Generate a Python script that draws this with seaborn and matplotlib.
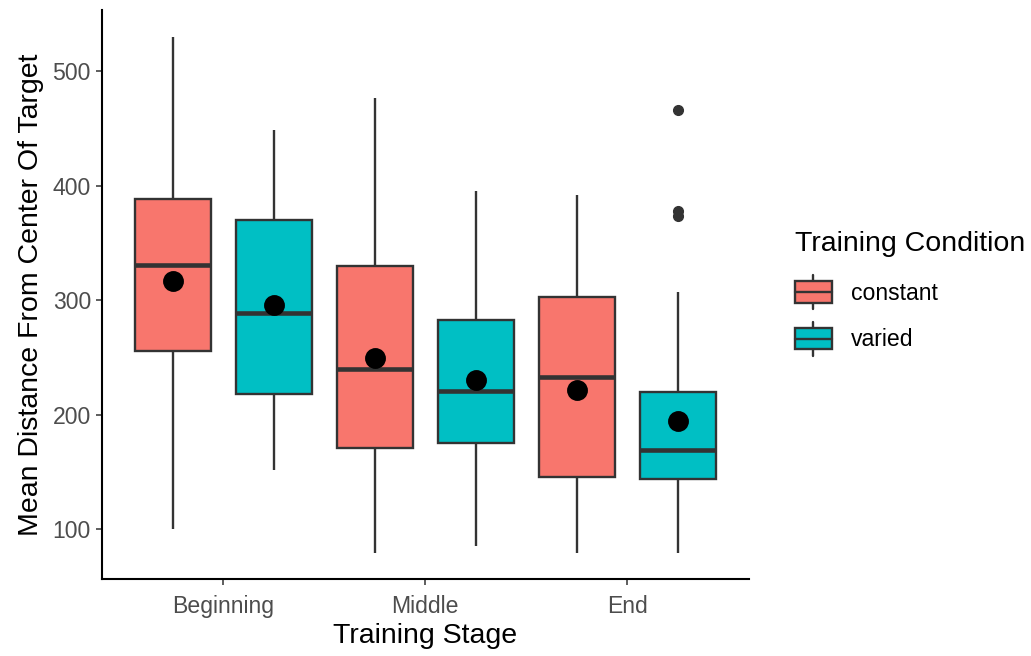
import matplotlib
matplotlib.use("Agg")
import matplotlib.pyplot as plt
import matplotlib.patches as mpatches
import matplotlib.lines as mlines
from matplotlib.legend_handler import HandlerBase
import numpy as np
import pandas as pd
import seaborn as sns

# ---------------------------------------------------------------------------
# Values (one entry per stage x condition box)
# ---------------------------------------------------------------------------
stages = ["Beginning", "Middle", "End"]
conditions = ["constant", "varied"]
palette = {"constant": "#F8766D", "varied": "#00BFC4"}

box_stage = ["Beginning", "Beginning", "Middle", "Middle", "End", "End"]
box_cond = ["constant", "varied", "constant", "varied", "constant", "varied"]
whisk_lo = [100, 152, 79, 85, 79, 79]
q1 = [256, 218, 171, 175, 146, 144]
median = [331, 289, 240, 221, 233, 169]
q3 = [388, 370, 330, 283, 303, 220]
whisk_hi = [530, 449, 477, 395, 392, 307]
outliers = [[], [], [], [], [], [466, 378, 374]]
means = [317, 296, 250, 230, 222, 195]


# Expand each five-number summary into a sample whose linear quartiles
# reproduce it exactly (n = 4m + 1, so Q1/median/Q3 land on indices m/2m/3m).
rows = []
for st, cd, lo, a, md, b, hi, out in zip(box_stage, box_cond, whisk_lo, q1,
                                         median, q3, whisk_hi, outliers):
    m = 1 + len(out)
    vals = [lo] + [a] * m + [md] * m + [b] * m + [hi] * (m - len(out)) + out
    rows += [{"stage": st, "condition": cd, "distance": v} for v in vals]
df = pd.DataFrame(rows)
df_mean = pd.DataFrame({"stage": box_stage, "condition": box_cond, "distance": means})

# ---------------------------------------------------------------------------
# Plot
# ---------------------------------------------------------------------------
sns.set_theme(style="white")
plt.rcParams["font.family"] = ["Liberation Sans", "DejaVu Sans"]

fig = plt.figure(figsize=(10.31, 6.56), dpi=100)
ax = fig.add_axes([0.099, 0.117, 0.627, 0.868])

edge = "#333333"
sns.boxplot(data=df, x="stage", y="distance", hue="condition",
            order=stages, hue_order=conditions, palette=palette,
            saturation=1, width=1.0, gap=0.25, whis=1.5, showcaps=False,
            linecolor=edge, linewidth=1.7,
            medianprops={"linewidth": 3.3, "color": edge},
            flierprops={"marker": "o", "markerfacecolor": edge,
                        "markeredgecolor": edge, "markersize": 7},
            legend=False, ax=ax)

sns.pointplot(data=df_mean, x="stage", y="distance", hue="condition",
              order=stages, hue_order=conditions,
              palette={"constant": "black", "varied": "black"},
              dodge=0.5, errorbar=None, markers="o", linestyle="none",
              markersize=13, legend=False, ax=ax)
for coll in ax.lines[-4:]:
    coll.set_zorder(5)

ax.set_xlim(-0.6, 2.6)
ax.set_ylim(56.4, 553.6)
ax.set_yticks([100, 200, 300, 400, 500])

for side in ["top", "right"]:
    ax.spines[side].set_visible(False)
for side in ["left", "bottom"]:
    ax.spines[side].set_color("black")
    ax.spines[side].set_linewidth(1.5)

ax.tick_params(axis="both", which="both", length=4, width=1.1,
               color="#333333", labelcolor="#4D4D4D", labelsize=16.6,
               left=True, bottom=True, pad=4)
ax.tick_params(axis="x", pad=7)
ax.set_xlabel("Training Stage", fontsize=20.5, color="black", labelpad=4)
ax.set_ylabel("Mean Distance From Center Of Target", fontsize=20.5,
              color="black", labelpad=6)


# ggplot-like legend keys: a small box with median and whiskers
class BoxKeyHandler(HandlerBase):
    def create_artists(self, legend, orig_handle, xdescent, ydescent,
                       width, height, fontsize, trans):
        cx = width / 2 - xdescent
        bh = height * 1.05
        y0 = (height - bh) / 2 - ydescent
        rect = mpatches.Rectangle((-xdescent, y0), width, bh,
                                  facecolor=orig_handle.get_facecolor(),
                                  edgecolor=edge, linewidth=1.7, transform=trans)
        med = mlines.Line2D([-xdescent, width - xdescent],
                            [y0 + bh / 2, y0 + bh / 2],
                            color=edge, linewidth=1.7, transform=trans)
        wlo = mlines.Line2D([cx, cx], [y0 - height * 0.3, y0],
                            color=edge, linewidth=1.7, transform=trans)
        whi = mlines.Line2D([cx, cx], [y0 + bh, y0 + bh + height * 0.3],
                            color=edge, linewidth=1.7, transform=trans)
        return [wlo, whi, rect, med]


handles = [mpatches.Patch(facecolor=palette[c], label=c) for c in conditions]
leg = fig.legend(handles=handles, labels=conditions, title="Training Condition",
                 loc="upper left", bbox_to_anchor=(0.753, 0.676),
                 frameon=False, fontsize=16.6, title_fontsize=20.5,
                 handler_map={mpatches.Patch: BoxKeyHandler()},
                 handlelength=1.6, handleheight=1.0, handletextpad=0.85,
                 labelspacing=1.0, borderpad=0.3, labelcolor="black")
leg.get_title().set_color("black")
leg._legend_box.align = "left"
leg._legend_box.sep = 18

fig.savefig("out.png", dpi=100)
